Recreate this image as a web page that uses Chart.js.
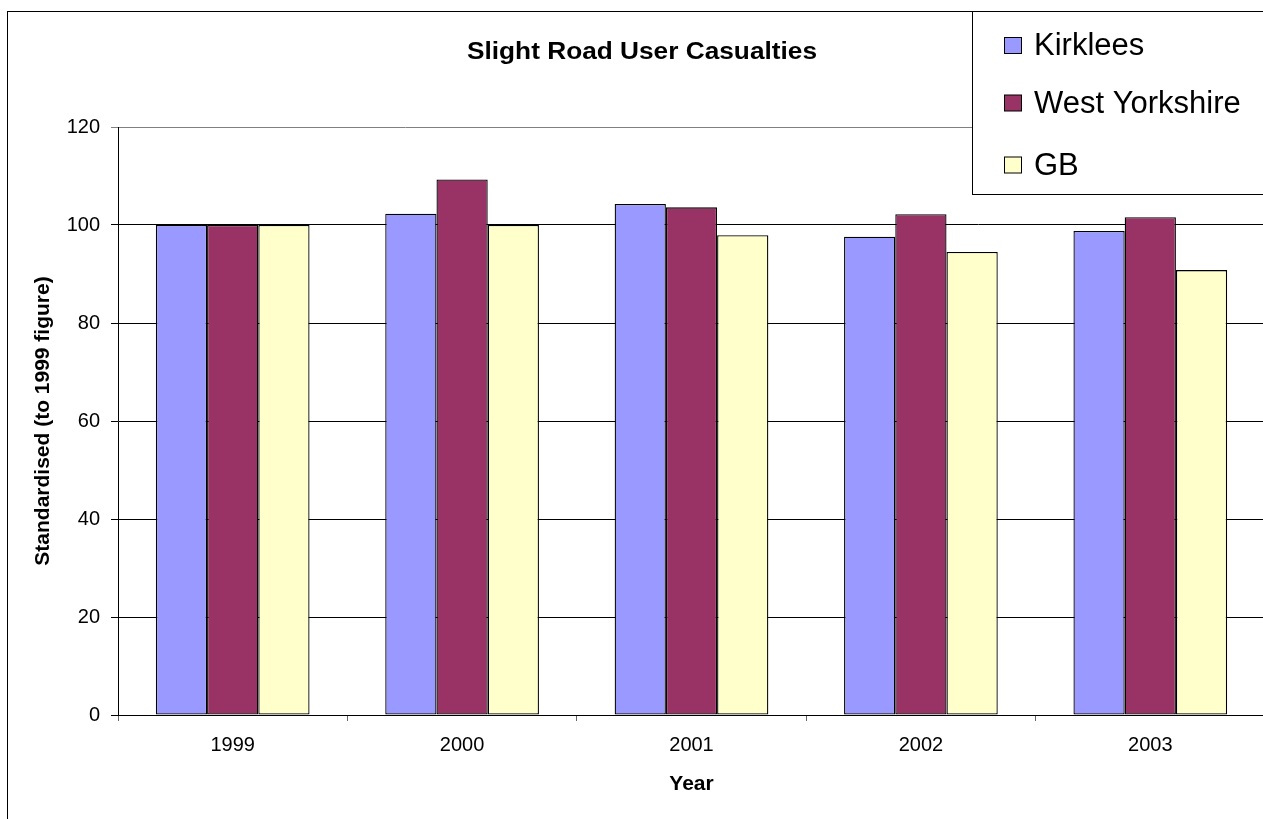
<!DOCTYPE html>
<html>
<head>
<meta charset="utf-8">
<script src="https://cdn.jsdelivr.net/npm/chart.js@4/dist/chart.umd.min.js"></script>
<style>
    html, body { margin: 0; padding: 0; background: #fff; overflow: hidden; }
    #wrap { width: 1275px; height: 819px; }
</style>
</head>
<body>
<div id="wrap"><canvas id="casualtiesChart" width="1275" height="819"></canvas></div>
<script>
// Datos (índice 1999 = 100)
const years = ["1999", "2000", "2001", "2002", "2003"];
const seriesNames = ["Kirklees", "West Yorkshire", "GB"];
const kirklees = [100, 102.3, 104.3, 97.6, 98.8];
const westYorkshire = [100, 109.3, 103.6, 102.2, 101.6];
const gb = [100, 100, 97.9, 94.5, 90.8];
const yTicks = [0, 20, 40, 60, 80, 100, 120];

const seriesColors = ["#9999FF", "#993366", "#FFFFCC"];
const fontFamily = "'Liberation Sans', Arial, sans-serif";

// Marco exterior, título y leyenda dibujados a mano
const framePlugin = {
    id: "frame",
    beforeDraw(chart) {
        const ctx = chart.ctx;
        ctx.save();
        ctx.fillStyle = "#fff";
        ctx.fillRect(0, 0, chart.width, chart.height);
        ctx.strokeStyle = "#000";
        ctx.lineWidth = 1;
        ctx.strokeRect(7.5, 11.5, 1400, 1000);
        ctx.restore();
    },
    afterDraw(chart) {
        const ctx = chart.ctx;
        ctx.save();

        // Título (algo más ancho, como en el original)
        const title = "Slight Road User Casualties";
        ctx.fillStyle = "#000";
        ctx.font = "bold 23px " + fontFamily;
        ctx.textAlign = "center";
        ctx.textBaseline = "alphabetic";
        const sx = 350 / ctx.measureText(title).width;
        ctx.save();
        ctx.translate(642, 59);
        ctx.scale(sx, 1);
        ctx.fillText(title, 0, 0);
        ctx.restore();

        // Leyenda
        ctx.fillStyle = "#fff";
        ctx.fillRect(972, 11, 400, 183);
        ctx.strokeStyle = "#000";
        ctx.lineWidth = 1;
        ctx.strokeRect(972.5, 11.5, 400, 183);

        const rowsY = [45.5, 103, 165];
        ctx.font = "31px " + fontFamily;
        ctx.textAlign = "left";
        ctx.textBaseline = "middle";
        chart.data.datasets.forEach((ds, i) => {
            ctx.fillStyle = ds.backgroundColor;
            ctx.fillRect(1004.5, rowsY[i] - 8, 17, 16);
            ctx.strokeStyle = "#000";
            ctx.strokeRect(1004.5, rowsY[i] - 8, 17, 16);
            ctx.fillStyle = "#000";
            ctx.fillText(ds.label, 1034, rowsY[i] + 1);
        });
        ctx.restore();
    }
};

const ctx = document.getElementById("casualtiesChart").getContext("2d");

new Chart(ctx, {
    type: "bar",
    data: {
        labels: years,
        datasets: [
            { label: seriesNames[0], data: kirklees, backgroundColor: seriesColors[0] },
            { label: seriesNames[1], data: westYorkshire, backgroundColor: seriesColors[1] },
            { label: seriesNames[2], data: gb, backgroundColor: seriesColors[2] }
        ].map(ds => ({
            ...ds,
            borderColor: "#000",
            borderWidth: 1.3,
            borderSkipped: false,
            categoryPercentage: 0.67,
            barPercentage: 1.0
        }))
    },
    options: {
        responsive: false,
        animation: false,
        layout: { padding: { top: 127, left: 0, right: 10, bottom: 0 } },
        plugins: {
            legend: { display: false },
            title: { display: false },
            tooltip: { enabled: false }
        },
        scales: {
            x: {
                offset: true,
                afterFit: scale => { scale.height = 104; },
                grid: {
                    offset: true,
                    drawOnChartArea: false,
                    color: "#666",
                    tickLength: 6
                },
                border: { color: "#000", width: 1 },
                ticks: {
                    color: "#000",
                    padding: 12,
                    font: { family: fontFamily, size: 20 }
                },
                title: {
                    display: true,
                    text: "Year",
                    color: "#000",
                    font: { family: fontFamily, size: 21, weight: "bold" },
                    padding: { top: 0, bottom: 22 }
                }
            },
            y: {
                min: 0,
                max: 120,
                afterFit: scale => { scale.width = 118; },
                afterBuildTicks: scale => { scale.ticks = yTicks.map(v => ({ value: v })); },
                grid: {
                    color: c => (c.tick && c.tick.value === 120 ? "#808080" : "#000"),
                    tickLength: 7,
                    lineWidth: 1
                },
                border: { color: "#000", width: 1 },
                ticks: {
                    color: "#000",
                    padding: 11,
                    font: { family: fontFamily, size: 20 }
                },
                title: {
                    display: true,
                    text: "Standardised (to 1999 figure)",
                    color: "#000",
                    font: { family: fontFamily, size: 21, weight: "bold" },
                    padding: { top: 31, bottom: 0 }
                }
            }
        }
    },
    plugins: [framePlugin]
});
</script>
</body>
</html>
